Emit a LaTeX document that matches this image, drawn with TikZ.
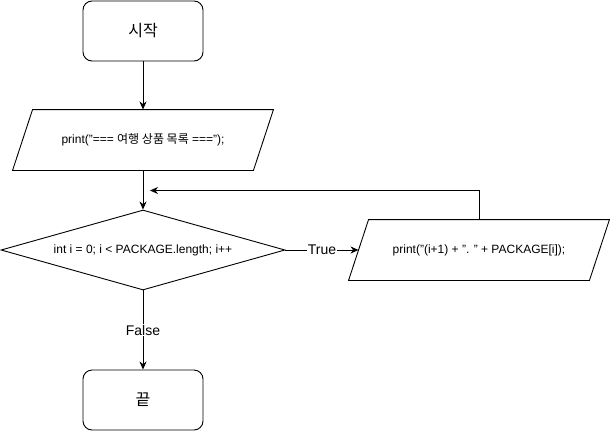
\documentclass[tikz,border=0pt]{standalone}
\usepackage{fontspec}
\setmainfont{Liberation Sans}
\newfontfamily\kr{Noto Sans CJK KR}
\usetikzlibrary{shapes.geometric,arrows.meta}

\begin{document}
\begin{tikzpicture}[x=1pt,y=-1pt,line width=0.9pt,
  terminal/.style={draw,rounded corners=9pt,minimum width=120pt,minimum height=60pt,font=\fontsize{16}{18}\selectfont\kr},
  iobox/.style={rectangle,minimum width=260pt,minimum height=60pt,font=\fontsize{12}{14}\selectfont},
  decision/.style={draw,diamond,aspect=3.55,minimum width=284pt,minimum height=80pt,inner sep=0pt,font=\fontsize{12}{14}\selectfont},
  flow/.style={-{Stealth[length=8pt,width=7pt,inset=2.5pt]}},
  edgelabel/.style={fill=white,inner sep=1pt,font=\fontsize{14}{16}\selectfont}]
\useasboundingbox (0,0) rectangle (610,431);
\node[terminal] (start) at (143,31) {시작};
\node[iobox] (title) at (143,140) {print("=== {\kr 여행 상품 목록} ===");};
\node[decision] (loop) at (143,250) {int i = 0; i < PACKAGE.length; i++};
\node[iobox] (item) at (479,250) {print("(i+1) + ". " + PACKAGE[i]);};
\node[terminal] (stop) at (143,400) {끝};
% slanted outlines of the two print boxes
\foreach \b in {title,item}
  \draw ([xshift=20pt]\b.north west) -- (\b.north east) -- ([xshift=-20pt]\b.south east) -- (\b.south west) -- cycle;
\coordinate (back) at (150,190.5);
\draw[flow] (start) -- (title);
\draw[flow] (title) -- (loop);
\draw[flow] (loop.east) -- node[edgelabel,pos=0.5] {True} ([xshift=10pt]item.west);
\draw[flow] (item.north) |- (back);
\draw[flow] (loop.south) -- node[edgelabel,pos=0.5] {False} (stop.north);
\end{tikzpicture}
\end{document}
